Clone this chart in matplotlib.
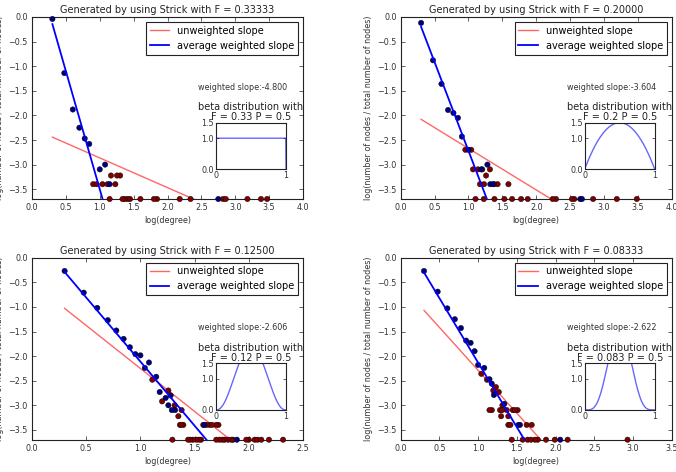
import numpy as np
import matplotlib
matplotlib.use("Agg")
import matplotlib.pyplot as plt
from math import gamma

# ---------------- data ----------------
F_VALUES = [0.33333, 0.20000, 0.12500, 0.08333]
P_VALUE = 0.5
X_MAX = [4.0, 4.0, 2.5, 3.5]
Y_MIN = -3.699

WEIGHTED_SLOPES = [-4.800, -3.604, -2.606, -2.622]
WEIGHTED_INTERCEPTS = [1.30, 0.885, 0.494, 0.489]
UNWEIGHTED_SLOPES = [-0.604, -0.844, -1.747, -1.744]
UNWEIGHTED_INTERCEPTS = [-2.26, -1.826, -0.504, -0.545]

# panel A  (F = 0.33333)
A_x = [0.301, 0.477, 0.602, 0.699, 0.778, 0.845, 1.000, 1.079, 1.146, 2.750,
       0.903, 0.954, 1.041, 1.114, 1.230,
       1.166, 1.255, 1.301,
       1.146, 1.336, 1.370, 1.410, 1.447, 1.600, 1.800, 1.845, 2.180, 2.340,
       2.820, 2.860, 3.180, 3.380, 3.470]
A_y = [-0.04, -1.14, -1.88, -2.25, -2.47, -2.58, -3.097, -3.0, -3.398, -3.699,
       -3.398, -3.398, -3.398, -3.398, -3.398,
       -3.222, -3.222, -3.222,
       -3.699, -3.699, -3.699, -3.699, -3.699, -3.699, -3.699, -3.699, -3.699, -3.699,
       -3.699, -3.699, -3.699, -3.699, -3.699]
A_w = [1] * 10 + [0] * 23

# panel B  (F = 0.2)
B_x = [0.301, 0.477, 0.602, 0.699, 0.778, 0.845, 0.903, 1.000, 1.190, 1.280, 1.322, 1.362, 2.650, 2.675,
       0.954, 1.041,
       1.067, 1.141, 1.204, 1.317,
       1.260,
       1.170, 1.230, 1.380, 1.430, 1.590,
       1.104, 1.227, 1.384, 1.531, 1.644, 1.777, 1.875, 2.243, 2.292, 2.528, 2.562,
       2.840, 3.190, 3.485]
B_y = [-0.12, -0.88, -1.36, -1.89, -1.95, -2.05, -2.43, -2.699, -3.097, -3.0, -3.398, -3.398, -3.699, -3.699,
       -2.699, -2.699,
       -3.097, -3.097, -3.097, -3.097,
       -3.222,
       -3.398, -3.398, -3.398, -3.398, -3.398,
       -3.699, -3.699, -3.699, -3.699, -3.699, -3.699, -3.699, -3.699, -3.699, -3.699, -3.699,
       -3.699, -3.699, -3.699]
B_w = [1] * 14 + [0] * 26

# panel C  (F = 0.125)
C_x = [0.301, 0.477, 0.602, 0.699, 0.778, 0.845, 0.903, 0.954, 1.000, 1.041, 1.079, 1.146,
       1.178, 1.233, 1.258, 1.279, 1.290, 1.320, 1.590, 1.890,
       1.110, 1.200, 1.258, 1.316, 1.380, 1.350, 1.365, 1.396,
       1.378, 1.580, 1.610, 1.640, 1.660, 1.700, 1.720,
       1.295, 1.440, 1.460, 1.485, 1.516, 1.540, 1.560, 1.700, 1.730, 1.756, 1.777,
       1.810, 1.840, 1.855, 1.977, 2.000, 2.054, 2.080, 2.115, 2.186, 2.316]
C_y = [-0.27, -0.71, -1.02, -1.27, -1.48, -1.65, -1.82, -1.96, -1.985, -2.24, -2.13, -2.42,
       -2.73, -2.85, -3.0, -2.80, -3.097, -3.097, -3.398, -3.699,
       -2.48, -2.92, -2.699, -3.0, -3.097, -3.222, -3.398, -3.398,
       -3.398, -3.398, -3.398, -3.398, -3.398, -3.398, -3.398,
       -3.699, -3.699, -3.699, -3.699, -3.699, -3.699, -3.699, -3.699, -3.699, -3.699, -3.699,
       -3.699, -3.699, -3.699, -3.699, -3.699, -3.699, -3.699, -3.699, -3.699, -3.699]
C_w = [1] * 20 + [0] * 36

# panel D  (F = 0.08333)
D_x = [0.301, 0.477, 0.602, 0.699, 0.778, 0.845, 0.903, 0.954, 1.000, 1.079, 1.146, 1.176,
       1.204, 1.338, 1.520, 1.540, 2.060,
       1.041, 1.114, 1.230, 1.267, 1.196,
       1.147, 1.177, 1.283, 1.310, 1.370, 1.447, 1.476, 1.510,
       1.314, 1.297, 1.390,
       1.390, 1.417, 1.627, 1.692,
       1.434, 1.576, 1.640, 1.683, 1.735, 1.770, 1.877, 1.990, 2.156, 2.930]
D_y = [-0.27, -0.69, -1.03, -1.25, -1.43, -1.685, -1.73, -1.90, -2.18, -2.24, -2.47, -2.56,
       -2.79, -2.97, -3.398, -3.398, -3.699,
       -2.36, -2.48, -2.63, -2.73, -2.70,
       -3.097, -3.097, -3.097, -3.097, -3.097, -3.097, -3.097, -3.097,
       -3.0, -3.222, -3.222,
       -3.398, -3.398, -3.398, -3.398,
       -3.699, -3.699, -3.699, -3.699, -3.699, -3.699, -3.699, -3.699, -3.699, -3.699]
D_w = [1] * 17 + [0] * 30

PANELS = [(A_x, A_y, A_w), (B_x, B_y, B_w), (C_x, C_y, C_w), (D_x, D_y, D_w)]

# ---------------- layout ----------------
W, H = 676, 472
fig = plt.figure(figsize=(W / 100, H / 100), dpi=100)
plt.rcParams['font.family'] = ['DejaVu Sans']

AX_LEFT_PX = [32, 400.7, 32, 400.7]
AX_TOP_PX = [17, 17, 257.7, 257.7]
AX_W_PX, AX_H_PX = 271, 182
INS_DX, INS_DY, INS_W, INS_H = 184, 105.7, 70, 46.5

BLUE_PT = '#00007f'
RED_PT = '#7f0000'
SMALL = 5.8
BIG = 7

for i, (xs, ys, ws) in enumerate(PANELS):
    l, t = AX_LEFT_PX[i], AX_TOP_PX[i]
    ax = fig.add_axes([l / W, 1 - (t + AX_H_PX) / H, AX_W_PX / W, AX_H_PX / H])
    xs = np.array(xs); ys = np.array(ys); ws = np.array(ws)
    cols = np.where(ws == 1, BLUE_PT, RED_PT)
    order = np.argsort(ws)
    ax.scatter(xs[order], ys[order], c=cols[order], s=15, edgecolors='k',
               linewidths=0.3, zorder=3, clip_on=False)
    xx = np.array([xs.min(), xs.max()])
    ax.plot(xx, UNWEIGHTED_INTERCEPTS[i] + UNWEIGHTED_SLOPES[i] * xx,
            color='red', alpha=0.6, lw=1.0, label='unweighted slope', zorder=2)
    ax.plot(xx, WEIGHTED_INTERCEPTS[i] + WEIGHTED_SLOPES[i] * xx,
            color='blue', lw=1.3, label='average weighted slope', zorder=4)
    ax.set_xlim(0, X_MAX[i])
    ax.set_ylim(Y_MIN, 0.0)
    ax.set_xticks(np.arange(0, X_MAX[i] + 0.01, 0.5))
    ax.set_yticks(np.arange(0, -3.51, -0.5))
    ax.tick_params(direction='in', top=True, right=True, labelsize=SMALL,
                   length=3, width=0.5, pad=3, colors='#222222', labelcolor='#333333')
    for s in ax.spines.values():
        s.set_linewidth(0.8)
        s.set_color('#222222')
    ax.set_title('Generated by using Strick with F = %.5f' % F_VALUES[i],
                 fontsize=BIG, pad=2.9, color='#222222')
    ax.set_xlabel('log(degree)', fontsize=SMALL, labelpad=3, color='#333333')
    ax.set_ylabel('log(number of nodes / total number of nodes)', fontsize=SMALL,
                  labelpad=3, color='#333333')
    leg = ax.legend(loc='upper right', fontsize=BIG, fancybox=False,
                    borderaxespad=0.5, handlelength=2.0, framealpha=1)
    leg.get_frame().set_edgecolor('#222222')
    leg.get_frame().set_linewidth(0.8)
    ax.text(0.614, 0.614, 'weighted slope:%.3f' % WEIGHTED_SLOPES[i],
            transform=ax.transAxes, fontsize=SMALL, ha='left', va='center',
            color='#333333')

    # inset: beta distribution
    il = l + INS_DX
    it = t + INS_DY
    iax = fig.add_axes([il / W, 1 - (it + INS_H) / H, INS_W / W, INS_H / H])
    F = F_VALUES[i]
    a = P_VALUE * (1 - F) / F
    b = (1 - P_VALUE) * (1 - F) / F
    bx = np.linspace(0, 1, 300)
    beta_fn = gamma(a) * gamma(b) / gamma(a + b)
    pdf = bx ** (a - 1) * (1 - bx) ** (b - 1) / beta_fn
    iax.plot(bx, pdf, color='blue', alpha=0.6, lw=1.0)
    iax.set_xlim(0, 1)
    iax.set_ylim(0, 1.5)
    iax.set_xticks([0, 1])
    iax.set_yticks([0.0, 1.0, 1.5])
    iax.set_yticklabels(['0.0', '1.0', '1.5'])
    iax.tick_params(direction='in', top=True, right=True, labelsize=SMALL,
                    length=2, width=0.5, pad=1.5, colors='#222222', labelcolor='#333333')
    for s in iax.spines.values():
        s.set_linewidth(0.8)
        s.set_color('#222222')
    iax.set_title('beta distribution with\nF = %.2g P = %.1f' % (F, P_VALUE),
                  fontsize=BIG, pad=2, linespacing=1.0, color='#222222')

fig.savefig('out.png', dpi=100)
